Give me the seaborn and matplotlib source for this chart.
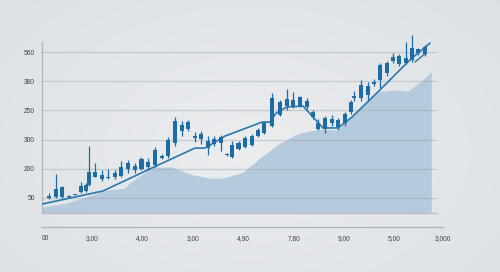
import numpy as np
import pandas as pd
import matplotlib
matplotlib.use("Agg")
import matplotlib.pyplot as plt
import seaborn as sns

# ---------------- data ----------------
# candle positions (time units) and OHLC values (chart level units)
cx = [2.9, 5.7, 8.1, 10.8, 13.2, 15.6, 17.6, 18.6, 21.2, 23.9, 26.3, 29.1, 31.5, 34.2, 37.0,
      39.6, 42.2, 45.0, 47.8, 50.3, 52.9, 55.7, 58.1, 60.8, 63.2, 66.0, 68.4, 71.1, 73.5, 75.5,
      78.1, 80.7, 83.5, 85.8, 88.2, 91.2, 94.6, 97.3, 99.9, 102.5, 105.3, 107.5, 109.8, 112.4,
      115.2, 117.6, 120.4, 122.7, 124.1, 126.7, 129.5, 131.9, 134.3, 137.1, 139.5, 141.8,
      144.6, 147.0, 149.4, 152.2]
c_open = [0, 3, 3, 2, 10, 21, 24, 45, 72, 65, 68, 72, 75, 99, 96, 99, 106, 113, 137, 144,
          188, 229, 236, 205, 202, 171, 185, 188, 147, 140, 168, 175, 182, 212, 223, 247,
          284, 315, 312, 315, 312, 277, 236, 236, 257, 243, 257, 295, 342, 342, 353, 390,
          404, 428, 469, 459, 462, 473, 497, 493]
c_close = [7, 31, 38, 7, 14, 41, 45, 89, 89, 79, 72, 86, 106, 120, 110, 134, 123, 164, 144,
           199, 264, 250, 260, 212, 219, 195, 202, 209, 152, 182, 188, 205, 212, 233, 257,
           342, 329, 339, 336, 346, 332, 295, 257, 274, 271, 267, 288, 329, 349, 387, 384,
           396, 455, 462, 483, 486, 479, 514, 510, 517]
c_high = [17, 82, 41, 10, 15, 55, 51, 178, 120, 96, 99, 96, 127, 130, 120, 140, 137, 175,
          151, 209, 277, 264, 267, 226, 229, 212, 212, 216, 154, 195, 195, 212, 219, 240,
          264, 360, 336, 373, 363, 349, 342, 301, 271, 281, 284, 274, 295, 336, 366, 404,
          397, 408, 462, 469, 497, 493, 534, 558, 514, 524]
c_low = [-3, 0, 0, 0, 9, 17, 21, 41, 72, 58, 65, 65, 72, 86, 86, 96, 96, 106, 134, 137,
         178, 212, 229, 192, 185, 147, 178, 161, 144, 137, 164, 171, 178, 209, 219, 243,
         281, 301, 308, 312, 305, 271, 233, 223, 247, 233, 247, 288, 332, 332, 336, 384,
         377, 418, 462, 452, 459, 466, 490, 486]

trend_x = [0, 24.3, 47.0, 60.8, 64.8, 72.7, 87.4, 90.6, 93.0, 97.3, 103.7, 107.3, 111.6,
           117.6, 123.1, 134.2, 146.1, 154.1]
trend_y = [-21, 24, 116, 171, 171, 212, 260, 260, 291, 312, 315, 281, 240, 240, 277, 370,
           473, 531]
trend2_x = [148.1, 152.5]
trend2_y = [466, 497]

area_x = [0, 10.0, 25.9, 32.9, 35.4, 44.2, 51.7, 60.0, 66.8, 71.9, 79.9, 86.6, 94.5, 102.5,
          110.4, 117.2, 123.5, 130.3, 134.2, 141.0, 145.4, 150.2, 154.6]
area_y = [-31, -17, 27, 34, 55, 106, 106, 79, 68, 68, 89, 137, 188, 223, 236, 233, 281,
          342, 366, 370, 366, 397, 432]

y_levels = [0, 100, 200, 300, 400, 500]
y_labels = ["50", "200", "300", "250", "380", "560"]
x_ticks_minor = list(range(0, 160, 10))
x_tick_pos = [0, 20, 40, 60, 80, 100, 120, 140, 159.1]
x_tick_labels = ["00", "3,00", "4,00", "3,00", "4,90", "7,80", "9,00", "5,00", "3,000"]

candles = pd.DataFrame({"x": cx, "open": c_open, "close": c_close,
                        "high": c_high, "low": c_low})
trend = pd.DataFrame({"x": trend_x, "y": trend_y})
trend2 = pd.DataFrame({"x": trend2_x, "y": trend2_y})

# ---------------- style ----------------
sns.set_theme(style="white")
plt.rcParams["font.family"] = ["Liberation Sans", "DejaVu Sans"]

W, H = 500, 272
fig = plt.figure(figsize=(W / 100, H / 100), dpi=100)

# background gradient
bg = fig.add_axes([0, 0, 1, 1], zorder=-10)
yy, xx = np.mgrid[0:1:200j, 0:1:300j]
r = np.sqrt(((xx - 0.5) / 0.75) ** 2 + ((yy - 0.55) / 0.9) ** 2)
c_in = np.array([0.922, 0.930, 0.938])
c_out = np.array([0.86, 0.875, 0.89])
t = np.clip(r, 0, 1)[..., None]
img = c_in * (1 - t) + c_out * t
bg.imshow(img, extent=[0, 1, 0, 1], aspect="auto")
bg.axis("off")

# main axes
ax = fig.add_axes([41.7 / W, 1 - 213 / H, (437 - 41.7) / W, (213 - 35) / H])
ax.set_facecolor("none")
ax.set_xlim(0, (437 - 41.7) / 2.52)
ax.set_ylim(-51.4, 558.5)

area_color = "#b6cadd"
ax.fill_between(area_x, area_y, -51.4, color=area_color, lw=0, zorder=2)

for lv in y_levels:
    ax.axhline(lv, color="#9aa6b2", alpha=0.45, lw=0.9, zorder=3)

sns.lineplot(data=trend, x="x", y="y", ax=ax, color="#2a78ae", lw=1.2, zorder=4,
             sort=False, estimator=None)
sns.lineplot(data=trend2, x="x", y="y", ax=ax, color="#2a78ae", lw=1.0, zorder=4,
             sort=False, estimator=None)

candle_color = "#1d6da4"
ax.vlines(candles["x"], candles["low"], candles["high"], color=candle_color, lw=0.9,
          zorder=5, clip_on=False)
body_low = np.minimum(candles["open"], candles["close"])
body_h = np.maximum(np.abs(candles["close"] - candles["open"]), 4)
ax.bar(candles["x"], body_h, bottom=body_low, width=1.6, color=candle_color, lw=0,
       zorder=6, clip_on=False)

ax.set_xlabel("")
ax.set_ylabel("")
ax.set_yticks(y_levels)
ax.set_yticklabels(y_labels)
ax.set_xticks(x_ticks_minor)
ax.set_xticklabels([])
ax.tick_params(axis="y", length=0, pad=5, labelsize=4.8, labelcolor="#3c4248")
ax.tick_params(axis="x", length=2, width=0.6, color="#aab0b6", direction="out")
for s in ["top", "right"]:
    ax.spines[s].set_visible(False)
ax.spines["left"].set_color("#b0b6bb")
ax.spines["left"].set_linewidth(0.9)
ax.spines["left"].set_bounds(-51.4, 534)
ax.spines["bottom"].set_color("#b6bcc1")
ax.spines["bottom"].set_linewidth(0.9)

# lower separate x axis
ax2 = fig.add_axes([41.7 / W, 1 - 227 / H, (442.7 - 41.7) / W, 0.001])
ax2.set_facecolor("none")
ax2.set_xlim(0, 159.1)
ax2.set_ylim(0, 1)
ax2.set_yticks([])
for s in ["top", "right", "left"]:
    ax2.spines[s].set_visible(False)
ax2.spines["bottom"].set_color("#aeb3b8")
ax2.spines["bottom"].set_linewidth(0.9)
ax2.set_xticks(x_ticks_minor + [159.1], minor=True)
ax2.set_xticks(x_tick_pos)
ax2.set_xticklabels(x_tick_labels)
ax2.tick_params(axis="x", which="both", direction="in", length=3, width=0.6,
                color="#aeb3b8", pad=6, labelsize=4.8, labelcolor="#3c4248")
ax2.get_xticklabels()[0].set_horizontalalignment("left")

fig.savefig("out.png", dpi=100)
